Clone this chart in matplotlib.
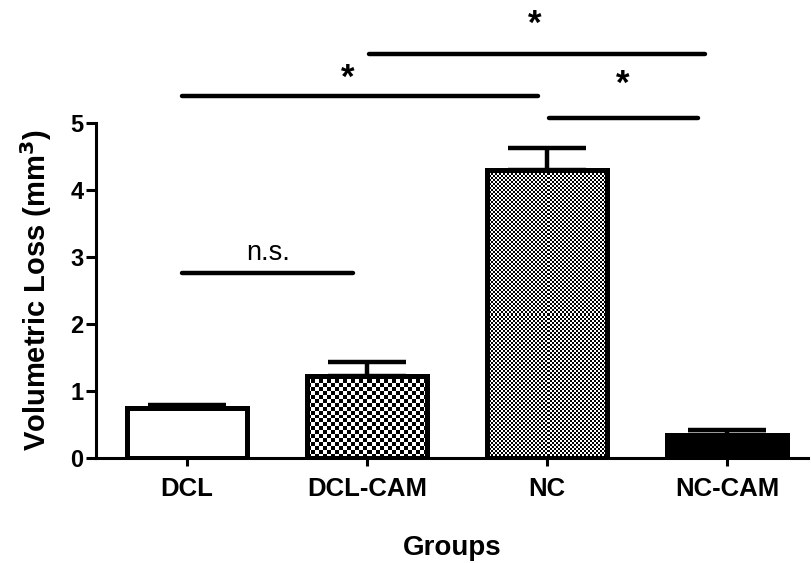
import numpy as np
import matplotlib
matplotlib.use("Agg")
import matplotlib.pyplot as plt

plt.rcParams['font.family'] = ['Liberation Sans', 'DejaVu Sans']

groups = ['DCL', 'DCL-CAM', 'NC', 'NC-CAM']
means = [0.74, 1.23, 4.30, 0.35]
sem = [0.05, 0.20, 0.32, 0.07]
# checker cell size in px, 0 = plain white, -1 = solid black
pattern = [0, 4, 2, -1]

# significance brackets: (x start, x end, y, label, label x, label y)
brackets = [
    (-0.03, 0.92, 2.76, 'n.s.', 0.45, 3.06),
    (-0.03, 1.95, 5.40, '*', 0.89, 5.66),
    (1.01, 2.88, 6.03, '*', 1.93, 6.48),
    (2.01, 2.84, 5.07, '*', 2.42, 5.58),
]

fig = plt.figure(figsize=(8.11, 5.63), dpi=100)
ax = fig.add_axes([0.1184, 0.1865, 0.878, 0.595])

x = np.arange(len(groups))
width = 0.667
lw = 3.6

ax.errorbar(x, means, yerr=[np.zeros(len(sem)), sem], fmt='none', ecolor='black',
            elinewidth=3.2, capsize=28, capthick=3.2, zorder=1)

faces = ['black' if p == -1 else 'white' for p in pattern]
bars = ax.bar(x, means, width=width, color=faces, edgecolor='none', zorder=2)

# checkerboard fills
for b, p in zip(bars, pattern):
    if p <= 0:
        continue
    x0, y0 = b.get_x(), b.get_y()
    w, h = b.get_width(), b.get_height()
    wpx = w * 180
    hpx = h * 67
    nx = max(int(round(wpx / p)), 1)
    ny = max(int(round(hpx / p)), 1)
    ii, jj = np.indices((ny, nx))
    board = (ii + jj) % 2
    im = ax.imshow(board, cmap='gray', interpolation='nearest', aspect='auto',
                   extent=[x0, x0 + w, y0, y0 + h], zorder=2.5, vmin=0, vmax=1)
    im.set_clip_path(b)

ax.bar(x, means, width=width, fill=False, edgecolor='black', linewidth=lw, zorder=3)

for xs, xe, yy, lab, tx, ty in brackets:
    ax.plot([xs, xe], [yy, yy], color='black', lw=3.2, solid_capstyle='round',
            clip_on=False, zorder=4)
    if lab == '*':
        ax.text(tx, ty, lab, ha='center', va='center', fontsize=25,
                fontweight='bold', clip_on=False)
    else:
        ax.text(tx, ty, lab, ha='center', va='center', fontsize=19.5, clip_on=False)

ax.set_xlim(-0.506, 3.45)
ax.set_ylim(0, 5)
ax.set_xticks(x)
ax.set_xticklabels(groups, fontsize=18.5, fontweight='bold')
ax.set_yticks(range(6))
ax.set_yticklabels([str(v) for v in range(6)], fontsize=17, fontweight='bold')
ax.tick_params(axis='x', length=6, width=2.2, pad=8)
ax.tick_params(axis='y', length=7, width=2.2, pad=2)

for s in ['top', 'right']:
    ax.spines[s].set_visible(False)
for s in ['left', 'bottom']:
    ax.spines[s].set_linewidth(2.2)

ax.set_xlabel('Groups', fontsize=20, fontweight='bold', labelpad=24)
ax.set_ylabel('Volumetric Loss (mm$^\\mathbf{3}$)', fontsize=21, fontweight='bold', labelpad=12)

fig.savefig('out.png', dpi=100)
